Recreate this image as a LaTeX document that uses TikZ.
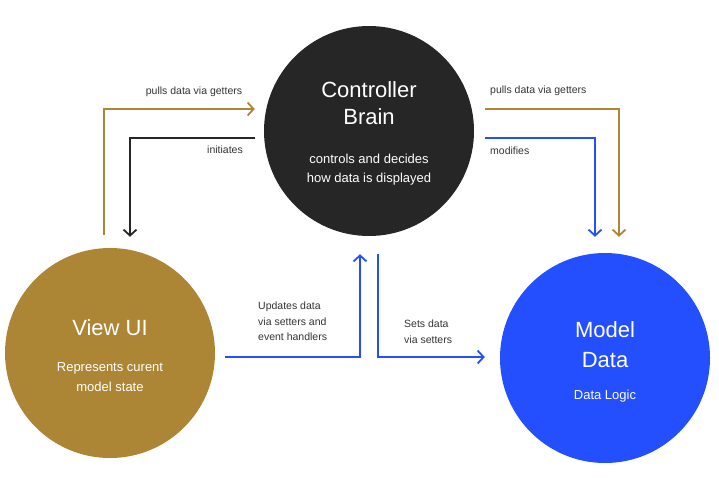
\documentclass[tikz,border=0pt]{standalone}
\usepackage{fontspec}
\setmainfont{Liberation Sans}
\usetikzlibrary{arrows.meta, positioning, calc}
\definecolor{mvcgold}{RGB}{173,134,53}
\definecolor{mvcblue}{RGB}{35,79,255}
\definecolor{mvcdark}{RGB}{38,38,38}
\definecolor{labelgray}{RGB}{51,51,51}
\newcommand{\subfont}{\fontsize{13}{19}\selectfont}

\begin{document}
\begin{tikzpicture}[x=1pt, y=-1pt,
        circ/.style={circle, minimum size=210pt, inner sep=0pt, text=white, align=center, font=\fontsize{22}{27}\selectfont},
        flow/.style={line width=1.8pt, -{Straight Barb[length=6pt, width=13pt]}},
        lbl/.style={font=\fontsize{10.5}{15.5}\selectfont, text=labelgray, inner sep=0pt, align=left}]
        \useasboundingbox (0,0) rectangle (719,477);
        
        \node[circ, fill=mvcdark] (ctrl) at (369,131) {\rule{0pt}{21pt}Controller\\Brain\\[12pt]\subfont controls and decides\\[-8pt]\subfont how data is displayed};
        \node[circ, fill=mvcgold] (view) at (110,353) {\rule{0pt}{21pt}View UI\\[9pt]\subfont Represents curent\\[-7pt]\subfont model state};
        \node[circ, fill=mvcblue] (model) at (605,358) {\rule{0pt}{23pt}Model\\[3pt]Data\\[5pt]\subfont Data Logic};
        
        \draw[flow, mvcgold] ([shift={(-6,-13)}]view.north) |- ([shift={(-9,-22)}]ctrl.west);
        \draw[flow, mvcdark] ([shift={(-9,7)}]ctrl.west) -| ([shift={(20,-11)}]view.north);
        \draw[flow, mvcgold] ([shift={(11,-22)}]ctrl.east) -| ([shift={(14,-16)}]model.north);
        \draw[flow, mvcblue] ([shift={(11,7)}]ctrl.east) -| ([shift={(-10,-16)}]model.north);
        \draw[flow, mvcblue] ([shift={(10,4)}]view.east) -| ([shift={(-9,18)}]ctrl.south);
        \draw[flow, mvcblue] ([shift={(9,18)}]ctrl.south) |- ([shift={(-15,-1)}]model.west);
        
        \node[lbl] (getl) at (194,92) {pulls data via getters};
        \node[lbl] (init) at (225,150) {initiates};
        \node[lbl, anchor=west] (getr) at (490,91) {pulls data via getters};
        \node[lbl, anchor=west] (modi) at (490,151) {modifies};
        \node[lbl, anchor=west] (upd) at (258,321.5) {Updates data\\via setters and\\event handlers};
        \node[lbl, anchor=west] (sets) at (404,331.5) {Sets data\\via setters};
    \end{tikzpicture}
\end{document}
